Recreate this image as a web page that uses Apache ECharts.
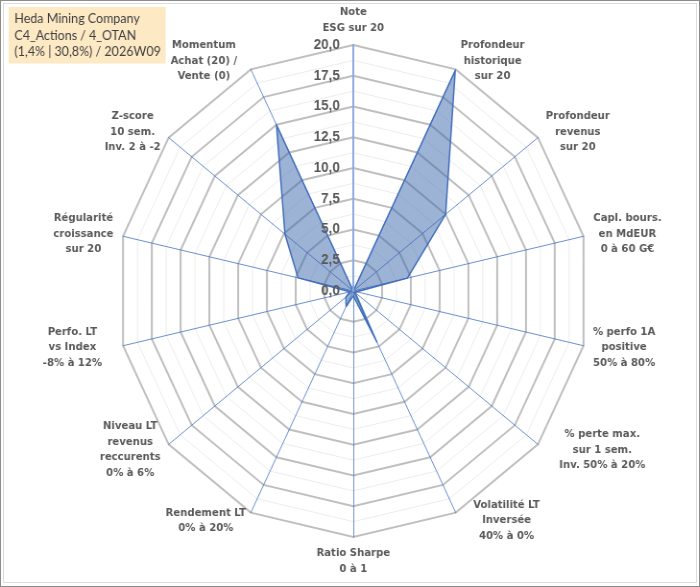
<!DOCTYPE html>
<html>
    <head>
        <meta charset="utf-8"/>
        <title>Heda Mining Company</title>
        <script src="https://cdn.jsdelivr.net/npm/echarts@6/dist/echarts.min.js"></script>
        <style>
            body { margin: 0; overflow: hidden; }
            #wrap { position: relative; width: 700px; height: 587px; overflow: hidden; }
            /* the reference is a little narrower than tall, so the chart is drawn wider and squeezed */
            #main { width: 729px; height: 587px; transform: scaleX(0.96); transform-origin: 0 0; }
            .frame { position: absolute; pointer-events: none; box-sizing: border-box; }
        </style>
    </head>
    <body>
        <div id="wrap">
            <div id="main"></div>
            <div class="frame" style="left:0;top:0;width:700px;height:587px;border:1px solid #8c8c8c;"></div>
            <div class="frame" style="left:3px;top:3px;width:694px;height:580px;border:1px solid #dcdcdc;"></div>
        </div>

        <script type="text/javascript">
            // axes in clockwise order, starting at the top
            var categories = [
                'Note\nESG sur 20',
                'Profondeur\nhistorique\nsur 20',
                'Profondeur\nrevenus\nsur 20',
                'Capl. bours.\nen MdEUR\n0 à 60 G€',
                '% perfo 1A\npositive\n50% à 80%',
                '% perte max.\nsur 1 sem.\nInv. 50% à 20%',
                'Volatilité LT\nInversée\n40% à 0%',
                'Ratio Sharpe\n0 à 1',
                'Rendement LT\n0% à 20%',
                'Niveau LT\nrevenus\nreccurents\n0% à 6%',
                'Perfo. LT\nvs Index\n-8% à 12%',
                'Régularité\ncroissance\nsur 20',
                'Z-score\n10 sem.\nInv. 2 à -2',
                'Momentum\nAchat (20) /\nVente (0)'
            ];
            var scores = [0, 19.9, 10, 4.7, 0.3, 0.2, 4.6, 0.4, 1.4, 0.8, 0.3, 4.8, 7.4, 15];
            var scaleMax = 20;
            var tickStep = 2.5;
            var titleLines = ['Heda Mining Company', 'C4_Actions / 4_OTAN', '(1,4% | 30,8%) / 2026W09'];

            // a few axis names sit further out than the default gap
            var namePad = { 5: [0, 0, 0, 14], 6: [0, 0, 0, 13], 10: [0, 12, 0, 0], 13: [0, 9, 0, 0] };

            // echarts radar runs counter-clockwise, so flip the order after the first axis
            var order = [0];
            for (var i = categories.length - 1; i > 0; i--) order.push(i);
            var indicator = order.map(function (k) { return { name: categories[k], min: 0, max: scaleMax }; });
            var values = order.map(function (k) { return scores[k]; });

            var center = [368, 291];
            var radius = 246;
            var nameFamily = 'DejaVu Sans';
            var nameSize = 10.5;

            // one rich style per label so each block is as wide as its longest line, lines centred
            var ctx = document.createElement('canvas').getContext('2d');
            ctx.font = 'bold ' + nameSize + 'px "' + nameFamily + '"';
            var rich = {};
            var styleOf = {};
            categories.forEach(function (name, k) {
                var w = 0;
                name.split('\n').forEach(function (s) { w = Math.max(w, ctx.measureText(s).width); });
                rich['c' + k] = {
                    width: Math.ceil(w) + 2,
                    align: 'center',
                    lineHeight: 15.5,
                    padding: namePad[k] || 0,
                    fontFamily: nameFamily,
                    fontWeight: 'bold',
                    fontSize: nameSize,
                    color: '#595959'
                };
                styleOf[name] = 'c' + k;
            });

            var chartDom = document.getElementById('main');
            var myChart = echarts.init(chartDom);
            var option = {
                animation: false,
                title: {
                    text: titleLines.join('\n'),
                    left: 9,
                    top: 7,
                    backgroundColor: '#fde9c4',
                    padding: [4, 5, 3, 6],
                    textStyle: {
                        fontFamily: 'Lato',
                        fontWeight: 'normal',
                        fontSize: 13,
                        lineHeight: 16.5,
                        color: '#404040'
                    }
                },
                grid: { left: center[0], top: center[1] - radius, width: 1, height: radius },
                xAxis: { type: 'value', show: false },
                yAxis: {
                    type: 'value',
                    min: 0,
                    max: scaleMax,
                    interval: tickStep,
                    z: 10,
                    axisLine: { show: true, lineStyle: { color: '#8faadc', width: 2 } },
                    axisTick: { show: false },
                    splitLine: { show: false },
                    axisLabel: {
                        margin: 14,
                        fontFamily: 'Arial',
                        fontWeight: 'bold',
                        fontSize: 14,
                        color: '#595959',
                        formatter: function (v) { return v.toFixed(1).replace('.', ','); }
                    }
                },
                radar: [{
                    // thin minor rings
                    indicator: indicator,
                    center: center,
                    radius: radius,
                    shape: 'polygon',
                    splitNumber: 16,
                    axisName: { show: false },
                    axisLine: { show: false },
                    splitArea: { show: false },
                    splitLine: { lineStyle: { color: '#ececec', width: 1 } }
                }, {
                    indicator: indicator,
                    center: center,
                    radius: radius,
                    shape: 'polygon',
                    splitNumber: 8,
                    nameGap: 9,
                    axisName: {
                        fontFamily: nameFamily,
                        fontWeight: 'bold',
                        fontSize: nameSize,
                        color: '#595959',
                        formatter: function (name) {
                            var st = styleOf[name];
                            return name.split('\n').map(function (s) { return '{' + st + '|' + s + '}'; }).join('\n');
                        },
                        rich: rich
                    },
                    axisLine: { lineStyle: { color: '#4472c4', width: 0.8 } },
                    splitArea: { show: false },
                    splitLine: { lineStyle: { color: '#bfbfbf', width: 2 } }
                }],
                series: [{
                    type: 'radar',
                    radarIndex: 1,
                    symbol: 'none',
                    lineStyle: { color: '#4472c4', width: 1.5 },
                    areaStyle: { color: 'rgba(56,100,170,0.7)' },
                    data: [{ value: values, name: 'Heda Mining Company' }]
                }]
            };
            myChart.setOption(option);
        </script>
    </body>
</html>
